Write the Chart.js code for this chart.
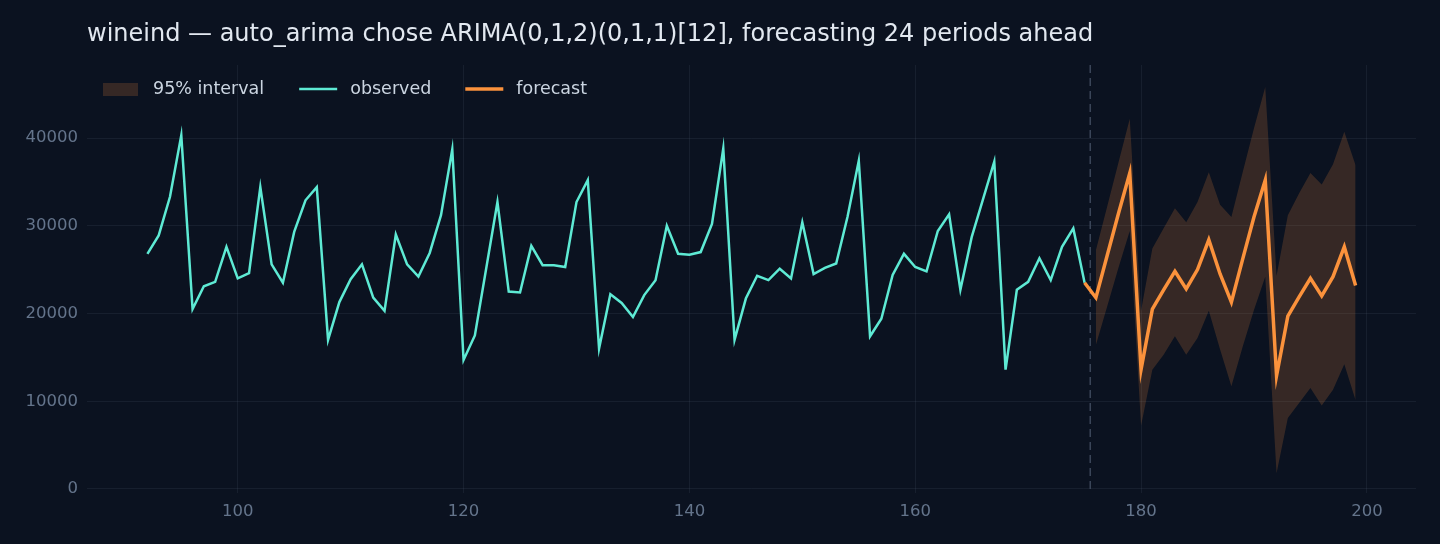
<!DOCTYPE html>
<html lang="en">
<head>
    <meta charset="UTF-8">
    <title>wineind forecast</title>
    <style>
        html, body { margin: 0; padding: 0; background: #0b1220; }
        .box { width: 1440px; height: 544px; }
    </style>
</head>
<body>
    <div class="box">
        <canvas id="grafico" width="1440" height="544"></canvas>
    </div>
<script src="https://cdn.jsdelivr.net/npm/chart.js"></script>
<script>
    // series data
    var titulo = 'wineind \u2014 auto_arima chose ARIMA(0,1,2)(0,1,1)[12], forecasting 24 periods ahead';
    var inicioObservado = 92;
    var observado = [
        26800, 28900, 33300, 40300, 20500, 23100, 23600, 27600, 24000, 24600,
        34400, 25600, 23500, 29300, 32900, 34400, 17000, 21300, 23900, 25600,
        21800, 20300, 29000, 25600, 24200, 26900, 31200, 38700, 14700, 17500,
        25100, 32700, 22500, 22400, 27700, 25500, 25500, 25300, 32700, 35200,
        16000, 22200, 21200, 19600, 22100, 23800, 30000, 26800, 26700, 27000,
        30200, 38800, 17000, 21700, 24300, 23800, 25100, 24000, 30400, 24500,
        25200, 25700, 31000, 37400, 17400, 19400, 24400, 26800, 25300, 24800,
        29400, 31300, 22700, 28700, 33000, 37300, 13600, 22700, 23600, 26300,
        23800, 27600, 29700, 23500
    ];
    var inicioPrevisao = 176;
    var previsao = [
        21800, 26600, 31400, 36000, 13600, 20500, 22700, 24800, 22800, 25000,
        28400, 24500, 21300, 26200, 31000, 35200, 12900, 19700, 21900, 24000,
        22000, 24200, 27600, 23200
    ];
    var limiteSuperior = [
        27200, 32200, 37200, 42200, 20300, 27400, 29700, 32000, 30400, 32700,
        36100, 32400, 31000, 36100, 41100, 45800, 24300, 31200, 33700, 36000,
        34700, 37000, 40700, 36900
    ];
    var limiteInferior = [
        16400, 20800, 25200, 29400, 7200, 13600, 15300, 17400, 15300, 17200,
        20300, 15900, 11700, 16200, 20400, 24200, 1800, 8100, 9800, 11500,
        9500, 11300, 14200, 10100
    ];
    var ticksX = [100, 120, 140, 160, 180, 200];
    var ticksY = [0, 10000, 20000, 30000, 40000];
    var corteX = 175.5;
    var legendas = ['95% interval', 'observed', 'forecast'];

    var corObservado = '#5eead4';
    var corPrevisao = '#fb923c';
    var corFaixa = 'rgba(251, 146, 60, 0.18)';

    function pontos(inicio, valores) {
        var lista = [];
        for (var i = 0; i < valores.length; i++) {
            lista.push({ x: inicio + i, y: valores[i] });
        }
        return lista;
    }

    var dadosObservado = pontos(inicioObservado, observado);
    // forecast line starts from the last observed point
    var dadosPrevisao = [dadosObservado[dadosObservado.length - 1]].concat(pontos(inicioPrevisao, previsao));
    var dadosSuperior = pontos(inicioPrevisao, limiteSuperior);
    var dadosInferior = pontos(inicioPrevisao, limiteInferior);

    var fonte = 'DejaVu Sans';

    const extras = {
        id: 'extras',
        beforeDatasetsDraw(chart) {
            var ctx = chart.ctx;
            var area = chart.chartArea;
            var px = chart.scales.x.getPixelForValue(corteX);
            ctx.save();
            ctx.strokeStyle = '#3b4659';
            ctx.lineWidth = 1.5;
            ctx.setLineDash([8, 5]);
            ctx.beginPath();
            ctx.moveTo(px, area.top);
            ctx.lineTo(px, area.bottom);
            ctx.stroke();
            ctx.restore();
        },
        afterDraw(chart) {
            var ctx = chart.ctx;
            var area = chart.chartArea;
            ctx.save();
            // title
            ctx.fillStyle = '#e2e8f0';
            ctx.font = '24px "' + fonte + '"';
            ctx.textBaseline = 'middle';
            ctx.textAlign = 'left';
            ctx.fillText(titulo, area.left, 35);

            // legend inside the plot, top left
            ctx.font = '17.5px "' + fonte + '"';
            var y = 89;
            var x = area.left + 16;
            ctx.fillStyle = corFaixa;
            ctx.fillRect(x, y - 6, 35, 13);
            ctx.fillStyle = '#cbd5e1';
            ctx.fillText(legendas[0], x + 50, y);
            x = x + 50 + ctx.measureText(legendas[0]).width + 35;
            var cores = [corObservado, corPrevisao];
            var larguras = [2.5, 3.5];
            for (var i = 1; i < legendas.length; i++) {
                ctx.strokeStyle = cores[i - 1];
                ctx.lineWidth = larguras[i - 1];
                ctx.beginPath();
                ctx.moveTo(x, y);
                ctx.lineTo(x + 38, y);
                ctx.stroke();
                ctx.fillStyle = '#cbd5e1';
                ctx.fillText(legendas[i], x + 51, y);
                x = x + 51 + ctx.measureText(legendas[i]).width + 34;
            }
            ctx.restore();
        }
    };

    function fixarTicks(lista) {
        return function (scale) {
            scale.ticks = lista.map(v => ({ value: v }));
        };
    }

    const ctx = document.getElementById('grafico').getContext('2d');
    const grafico = new Chart(ctx, {
        type: 'line',
        data: {
            datasets: [
                {
                    label: 'forecast',
                    data: dadosPrevisao,
                    borderColor: corPrevisao,
                    borderWidth: 3.5,
                    pointRadius: 0,
                    tension: 0,
                    fill: false
                },
                {
                    label: 'observed',
                    data: dadosObservado,
                    borderColor: corObservado,
                    borderWidth: 2.5,
                    pointRadius: 0,
                    tension: 0,
                    fill: false
                },
                {
                    label: 'upper',
                    data: dadosSuperior,
                    borderWidth: 0,
                    borderColor: 'rgba(0,0,0,0)',
                    backgroundColor: corFaixa,
                    pointRadius: 0,
                    tension: 0,
                    fill: 3
                },
                {
                    label: 'lower',
                    data: dadosInferior,
                    borderWidth: 0,
                    borderColor: 'rgba(0,0,0,0)',
                    pointRadius: 0,
                    tension: 0,
                    fill: false
                }
            ]
        },
        options: {
            responsive: false,
            animation: false,
            layout: { padding: { top: 65, left: 0, right: 24, bottom: 0 } },
            plugins: {
                legend: { display: false },
                title: { display: false },
                tooltip: { enabled: false }
            },
            scales: {
                x: {
                    type: 'linear',
                    min: 86.65,
                    max: 204.35,
                    afterFit: (s) => { s.height = 51; },
                    afterBuildTicks: fixarTicks(ticksX),
                    border: { display: false },
                    grid: { color: 'rgba(148, 163, 184, 0.09)', drawTicks: false },
                    ticks: {
                        color: '#64748b',
                        padding: 9,
                        callback: (v) => String(v),
                        font: { family: fonte, size: 16.5 }
                    }
                },
                y: {
                    min: -460,
                    max: 48320,
                    afterFit: (s) => { s.width = 87; },
                    afterBuildTicks: fixarTicks(ticksY),
                    border: { display: false },
                    grid: { color: 'rgba(148, 163, 184, 0.09)', drawTicks: false },
                    ticks: {
                        color: '#64748b',
                        padding: 9,
                        callback: (v) => String(v),
                        font: { family: fonte, size: 16.5 }
                    }
                }
            }
        },
        plugins: [extras]
    });
</script>
</body>
</html>
